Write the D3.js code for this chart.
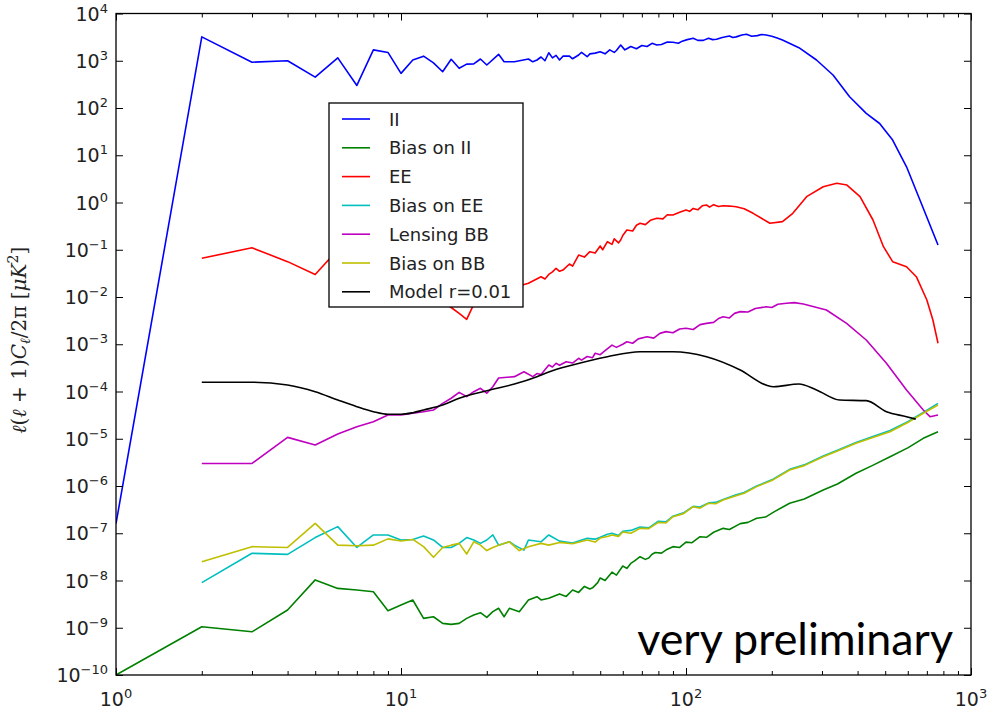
<!DOCTYPE html>
<html>
<head>
<meta charset="utf-8">
<script src="https://cdn.jsdelivr.net/npm/d3@7"></script>
<style>
  body { margin: 0; background: #fff; }
  svg { display: block; }
</style>
</head>
<body>
<div id="chart"></div>
<script>
// Power spectra and residual biases ([ell, value])
const II = [[1,1.6e-7],[2,3200],[3,930],[4,1000],[5,450],[6,1150],[7,300],[8,1700],[9,1500],[10,540],
  [11,1040],[12,1250],[13,900],[14,586],[15,1074],[16,692],[17,850],[18,860],[19,1089],[20,813],
  [22,1370],[23,955],[25,955],[28,1089],[29,950],[30,1037],[31,1200],[32,1000],[33,1479],[34,1150],
  [35,1300],[36,1037],[37,1250],[39,1250],[40,1100],[42,1324],[43,1500],[45,1219],[46,1400],[48,1450],
  [50,1555],[52,1400],[54,1700],[56,1500],[57,1650],[59,2155],[61,1700],[62,1800],[64,2000],[65,1927],
  [67,1800],[70,2100],[73,2000],[76,2340],[79,2150],[82,2200],[86,2500],[90,2455],[94,2350],[97,2600],
  [101,2800],[106,2985],[110,2700],[115,2700],[120,3000],[124,2800],[128,2844],[134,3100],[142,3340],
  [146,3100],[150,3200],[157,3500],[163,3630],[170,3300],[178,3400],[184,3600],[191,3510],[200,3300],
  [210,3000],[218,2750],[249,1890],[287,1037],[328,499],[375,173],[429,77],[478,47],[531,21],
  [594,5.7],[662,1.13],[766,0.126]];

const biasII = [[1,1e-10],[2,1.05e-9],[3,8.2e-10],[4,2.38e-9],[5,1.03e-8],[6,6.8e-9],[7,6.3e-9],[8,5.8e-9],
  [9,2.3e-9],[10,3.03e-9],[11,3.87e-9],[12,1.58e-9],[13,1.71e-9],[14,1.24e-9],[15,1.18e-9],[16,1.24e-9],
  [17,1.58e-9],[18,1.86e-9],[19,2.08e-9],[20,1.66e-9],[21,2.19e-9],[22,2.58e-9],[23,1.71e-9],[24,2.58e-9],
  [26,2.19e-9],[28,3.87e-9],[30,4.54e-9],[31,3.87e-9],[33,4.2e-9],[36,5.2e-9],[38,4.6e-9],[40,6.3e-9],
  [42,5.6e-9],[44,7.5e-9],[46,6.6e-9],[47,7.0e-9],[49,9e-9],[50,1.13e-8],[52,1.0e-8],[55,1.5e-8],
  [57,1.3e-8],[60,2.03e-8],[62,1.8e-8],[64,2.3e-8],[66,2.6e-8],[69,3.19e-8],[72,2.8e-8],[74,3.0e-8],
  [76,3.6e-8],[78,3.9e-8],[82,3.8e-8],[86,4.6e-8],[90,5.2e-8],[95,5.0e-8],[100,6.5e-8],[105,6.3e-8],
  [112,8.45e-8],[118,8.2e-8],[125,1.05e-7],[135,1.27e-7],[142,1.2e-7],[155,1.6e-7],[165,1.7e-7],
  [177,2.07e-7],[190,2.2e-7],[205,2.9e-7],[231,4.3e-7],[260,5.3e-7],[303,8.2e-7],[340,1.1e-6],
  [395,1.86e-6],[450,2.7e-6],[520,4.17e-6],[600,6.4e-6],[680,1.02e-5],[766,1.41e-5]];

const EE = [[2,0.066],[3,0.11],[4,0.056],[5,0.030],[6,0.1],[7,0.06],[8,0.04],[10,0.02],[12,0.012],
  [14,0.008],[15,0.006],[16,0.0045],[17,0.00337],[18,0.007],[20,0.009],[22,0.012],[25,0.016],
  [28,0.0195],[31,0.0269],[32,0.024],[33,0.03],[34,0.034],[35,0.0405],[36,0.035],[37,0.0372],
  [39,0.05],[40,0.045],[42,0.0774],[44,0.07],[46,0.091],[48,0.085],[50,0.12],[51,0.1],[53,0.148],
  [55,0.13],[56,0.17],[58,0.14],[59,0.161],[60,0.2],[62,0.262],[65,0.25],[67,0.33],[69,0.363],
  [72,0.34],[75,0.42],[79,0.463],[83,0.45],[86,0.55],[90,0.543],[95,0.62],[100,0.694],[103,0.65],
  [106,0.75],[110,0.7],[114,0.85],[118,0.885],[121,0.8],[125,0.9],[130,0.82],[135,0.855],[142,0.84],
  [150,0.815],[160,0.74],[172,0.59],[197,0.363],[218,0.393],[237,0.59],[265,1.33],[303,2.16],
  [338,2.55],[367,2.34],[408,1.33],[453,0.426],[493,0.116],[531,0.056],[594,0.0438],[643,0.0269],
  [700,0.00865],[735,0.00326],[766,0.00105]];

const biasEE = [[2,9.0e-9],[3,3.77e-8],[4,3.58e-8],[5,8.1e-8],[6,1.38e-7],[7,5.0e-8],[8,9.2e-8],[9,9.2e-8],
  [10,7.2e-8],[11,7.4e-8],[12,8.7e-8],[13,7.2e-8],[14,5.0e-8],[15,5.0e-8],[16,6.1e-8],[17,8.1e-8],
  [18,7.2e-8],[19,6.1e-8],[20,7.2e-8],[21,9.2e-8],[22,5.6e-8],[24,6.6e-8],[25,5.6e-8],[27,4.4e-8],
  [28,7.2e-8],[31,6.6e-8],[33,9.2e-8],[36,6.8e-8],[40,6.2e-8],[45,7.8e-8],[48,7.5e-8],[50,8.2e-8],
  [53,9.5e-8],[55,1.0e-7],[58,9.0e-8],[60,1.1e-7],[64,1.15e-7],[69,1.35e-7],[74,1.3e-7],[80,1.8e-7],
  [85,1.75e-7],[90,2.3e-7],[98,2.7e-7],[106,3.7e-7],[112,3.6e-7],[120,4.4e-7],[127,4.5e-7],
  [135,5.2e-7],[150,6.5e-7],[160,7.3e-7],[177,1.0e-6],[200,1.35e-6],[231,2.25e-6],[260,2.8e-6],
  [303,4.3e-6],[340,5.7e-6],[395,8.3e-6],[450,1.1e-5],[520,1.5e-5],[600,2.3e-5],[680,3.6e-5],[766,5.6e-5]];

const lensBB = [[2,3.0e-6],[3,3.0e-6],[4,1.07e-5],[5,7.4e-6],[6,1.26e-5],[7,1.8e-5],[8,2.3e-5],[9,3.18e-5],
  [10,3.18e-5],[11,3.46e-5],[12,3.74e-5],[13,4.06e-5],[14,5.6e-5],[15,7.2e-5],[16,9.6e-5],[17,7.8e-5],
  [18,9.9e-5],[19,1.17e-4],[20,9.2e-5],[21,1.26e-4],[22,1.93e-4],[25,2.06e-4],[27,2.62e-4],[29,2.06e-4],
  [30,2.4e-4],[31,2.3e-4],[32,2.9e-4],[33,3.64e-4],[34,3.3e-4],[35,3.95e-4],[36,3.6e-4],[38,4.27e-4],
  [40,4.0e-4],[42,5.05e-4],[43,4.6e-4],[45,5.5e-4],[47,5.2e-4],[48,6.45e-4],[50,6.0e-4],[52,7.3e-4],
  [55,9.6e-4],[57,8.6e-4],[60,1.0e-3],[62,1.13e-3],[65,1.05e-3],[68,1.3e-3],[73,1.44e-3],[77,1.35e-3],
  [81,1.7e-3],[85,1.85e-3],[90,1.75e-3],[95,2.1e-3],[100,2.18e-3],[106,2.05e-3],[112,2.6e-3],
  [118,2.77e-3],[125,2.9e-3],[130,3.5e-3],[135,3.83e-3],[142,3.6e-3],[148,4.5e-3],[155,4.9e-3],
  [165,4.8e-3],[175,5.7e-3],[191,6.2e-3],[200,6.0e-3],[210,7.0e-3],[225,7.4e-3],[240,7.6e-3],
  [258,7.1e-3],[311,5.3e-3],[366,2.77e-3],[429,1.23e-3],[505,3.95e-4],[594,1.08e-4],[680,4.06e-5],
  [718,2.93e-5],[766,3.18e-5]];

const biasBB = [[2,2.5e-8],[3,5.2e-8],[4,5.0e-8],[5,1.62e-7],[6,5.6e-8],[7,5.45e-8],[8,5.6e-8],[9,7.6e-8],
  [10,6.85e-8],[11,7.4e-8],[12,5.2e-8],[13,3.1e-8],[14,5.0e-8],[15,5.6e-8],[16,6.1e-8],[17,3.64e-8],
  [18,6.6e-8],[19,5.6e-8],[20,4.3e-8],[21,5.0e-8],[22,5.6e-8],[24,6.6e-8],[26,4.3e-8],[28,5.2e-8],
  [31,6.1e-8],[33,5.6e-8],[36,6.4e-8],[40,6.0e-8],[45,7.2e-8],[48,6.5e-8],[50,7.9e-8],[53,8.5e-8],
  [55,9.2e-8],[58,8.6e-8],[60,1.06e-7],[64,1.0e-7],[69,1.27e-7],[74,1.25e-7],[80,1.7e-7],[85,1.65e-7],
  [90,2.24e-7],[98,2.6e-7],[106,3.65e-7],[112,3.4e-7],[120,4.3e-7],[127,4.2e-7],[135,5.06e-7],
  [150,6.2e-7],[160,7.0e-7],[177,9.7e-7],[200,1.3e-6],[231,2.18e-6],[260,2.7e-6],[303,4.17e-6],
  [340,5.5e-6],[395,8.0e-6],[450,1.05e-5],[520,1.41e-5],[600,2.2e-5],[680,3.46e-5],[766,5.18e-5]];

const modelBB = [[2,1.57e-4],[3,1.57e-4],[4,1.37e-4],[5,9.9e-5],[6,6.6e-5],[7,4.77e-5],[8,3.74e-5],
  [9,3.29e-5],[10,3.29e-5],[11,3.56e-5],[12,4.06e-5],[14,5.18e-5],[16,7.2e-5],[20,1.04e-4],[25,1.44e-4],
  [30,2.06e-4],[33,2.6e-4],[40,3.64e-4],[53,5.45e-4],[69,6.95e-4],[90,6.95e-4],[118,5.45e-4],
  [155,2.85e-4],[191,1.37e-4],[203,1.26e-4],[249,1.44e-4],[287,1.08e-4],[346,6.6e-5],[429,6.4e-5],
  [505,3.74e-5],[594,2.93e-5],[640,2.6e-5]];

const seriesData = [II, biasII, EE, biasEE, lensBB, biasBB, modelBB];
const seriesLabels = ['II', 'Bias on II', 'EE', 'Bias on EE', 'Lensing BB', 'Bias on BB', 'Model r=0.01'];
const seriesColors = ['#0000ff', '#008000', '#ff0000', '#00bfbf', '#bf00bf', '#bfbf00', '#000000'];

const xTickExps = [0, 1, 2, 3];
const yTickExps = [-10, -9, -8, -7, -6, -5, -4, -3, -2, -1, 0, 1, 2, 3, 4];

// Layout
const W = 992, H = 716;
const margin = {top: 13.5, right: 21, bottom: 41, left: 116};

const svg = d3.select('#chart').append('svg')
    .attr('width', W)
    .attr('height', H);

const x = d3.scaleLog().domain([1, 1000]).range([margin.left, W - margin.right]);
const y = d3.scaleLog().domain([1e-10, 1e4]).range([H - margin.bottom, margin.top]);

const xMajor = xTickExps.map(e => Math.pow(10, e));
const xMinor = x.ticks().filter(v => xMajor.indexOf(v) < 0);
const yMajor = yTickExps.map(e => Math.pow(10, e));

// clip
svg.append('clipPath').attr('id', 'plot-clip')
    .append('rect')
    .attr('x', x.range()[0]).attr('y', y.range()[1])
    .attr('width', x.range()[1] - x.range()[0])
    .attr('height', y.range()[0] - y.range()[1]);

// Lines
const line = d3.line()
    .x(d => x(d[0]))
    .y(d => y(d[1]));

const lines = svg.append('g').attr('clip-path', 'url(#plot-clip)');
seriesData.forEach((data, i) => {
    lines.append('path')
        .datum(data)
        .attr('fill', 'none')
        .attr('stroke', seriesColors[i])
        .attr('stroke-width', 1.6)
        .attr('stroke-linejoin', 'round')
        .attr('d', i === 6 ? line.curve(d3.curveMonotoneX) : line.curve(d3.curveLinear));
});

// Axes (ticks point inward on all four sides)
function addAxis(axis, tx, ty) {
    const g = svg.append('g')
        .attr('transform', `translate(${tx},${ty})`)
        .call(axis);
    g.select('.domain').remove();
    g.selectAll('line').attr('stroke', '#000').attr('stroke-width', 1);
    return g;
}
const yBottom = y.range()[0], yTop = y.range()[1];
const xLeft = x.range()[0], xRight = x.range()[1];

addAxis(d3.axisBottom(x).tickValues(xMajor).tickSize(-7).tickFormat(''), 0, yBottom);
addAxis(d3.axisBottom(x).tickValues(xMinor).tickSize(-4).tickFormat(''), 0, yBottom);
addAxis(d3.axisTop(x).tickValues(xMajor).tickSize(-7).tickFormat(''), 0, yTop);
addAxis(d3.axisTop(x).tickValues(xMinor).tickSize(-4).tickFormat(''), 0, yTop);
addAxis(d3.axisLeft(y).tickValues(yMajor).tickSize(-7).tickFormat(''), xLeft, 0);
addAxis(d3.axisRight(y).tickValues(yMajor).tickSize(-7).tickFormat(''), xRight, 0);

// frame
svg.append('rect')
    .attr('x', xLeft).attr('y', yTop)
    .attr('width', xRight - xLeft).attr('height', yBottom - yTop)
    .attr('fill', 'none')
    .attr('stroke', '#000')
    .attr('stroke-width', 1.3);

// tick labels as 10^n
const tickFont = 'DejaVu Sans, sans-serif';
yTickExps.forEach(e => {
    const t = svg.append('text')
        .attr('x', xLeft - 8)
        .attr('y', y(Math.pow(10, e)) + 7)
        .attr('text-anchor', 'end')
        .attr('font-family', tickFont)
        .attr('font-size', 19)
        .attr('fill', '#222');
    t.append('tspan').text('10');
    t.append('tspan').attr('font-size', 13).attr('dy', -8).text(String(e).replace('-', '\u2212'));
});
xTickExps.forEach(e => {
    const t = svg.append('text')
        .attr('x', x(Math.pow(10, e)))
        .attr('y', 706)
        .attr('text-anchor', 'middle')
        .attr('font-family', tickFont)
        .attr('font-size', 19)
        .attr('fill', '#222');
    t.append('tspan').text('10');
    t.append('tspan').attr('font-size', 13).attr('dy', -8).text(String(e));
});

// y axis label: l(l+1)C_l/2pi [muK^2]
const yl = svg.append('text')
    .attr('transform', `translate(26,${(yTop + yBottom) / 2 - 4}) rotate(-90)`)
    .attr('text-anchor', 'middle')
    .attr('font-family', 'DejaVu Serif, serif')
    .attr('font-size', 20)
    .attr('fill', '#222');
yl.append('tspan').attr('font-style', 'italic').text('\u2113');
yl.append('tspan').text('(');
yl.append('tspan').attr('font-style', 'italic').text('\u2113');
yl.append('tspan').text(' + 1)');
yl.append('tspan').attr('font-style', 'italic').text('C');
yl.append('tspan').attr('font-style', 'italic').attr('font-size', 14).attr('dy', 4).text('\u2113');
yl.append('tspan').attr('dy', -4).text('/2\u03c0 [');
yl.append('tspan').attr('font-style', 'italic').text('\u03bcK');
yl.append('tspan').attr('font-size', 14).attr('dy', -8).text('2');
yl.append('tspan').attr('dy', 8).text(']');

// Legend
const legend = svg.append('g').attr('transform', 'translate(329,103)');
legend.append('rect')
    .attr('width', 194).attr('height', 204)
    .attr('fill', '#fff')
    .attr('stroke', '#000')
    .attr('stroke-width', 1.3);
seriesLabels.forEach((label, i) => {
    const ry = 16 + i * 28.8;
    legend.append('line')
        .attr('x1', 13).attr('x2', 41)
        .attr('y1', ry).attr('y2', ry)
        .attr('stroke', seriesColors[i])
        .attr('stroke-width', 1.6);
    legend.append('text')
        .attr('x', 60).attr('y', ry + 6.5)
        .attr('font-family', tickFont)
        .attr('font-size', 18)
        .attr('fill', '#222')
        .text(label);
});

// annotation
const note = svg.append('text')
    .attr('x', 953).attr('y', 655)
    .attr('text-anchor', 'end')
    .attr('font-family', 'Lato, "Open Sans", sans-serif')
    .attr('font-size', 48)
    .attr('fill', '#000')
    .text('very preliminary');
const len = note.node().getComputedTextLength();
note.attr('font-size', 48 * 316 / len);
</script>
</body>
</html>
